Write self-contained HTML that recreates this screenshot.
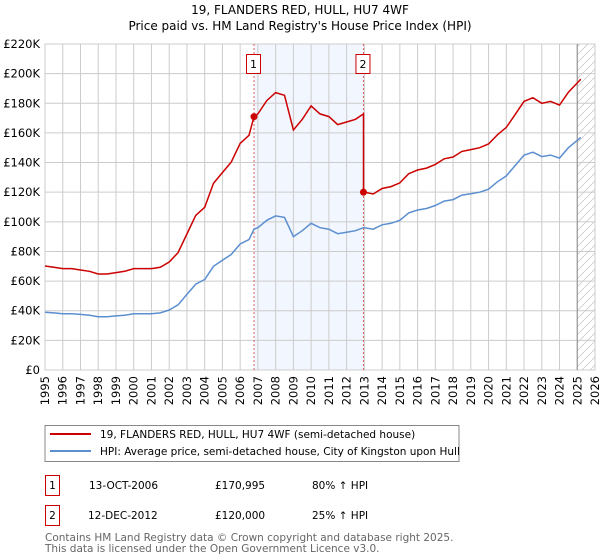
<!DOCTYPE html>
<html><head><meta charset="utf-8">
<style>
html,body{margin:0;padding:0;background:#fff;}
svg{display:block;font-family:"DejaVu Sans","Liberation Sans",sans-serif;}
</style></head>
<body>
<svg id="chart" width="600" height="560" viewBox="0 0 600 560" xmlns="http://www.w3.org/2000/svg">
<text x="300" y="14" text-anchor="middle" font-size="12">19, FLANDERS RED, HULL, HU7 4WF</text>
<text x="300" y="30" text-anchor="middle" font-size="12">Price paid vs. HM Land Registry's House Price Index (HPI)</text>
<g id="plot"></g>
<g>
<rect x="45" y="425.5" width="414" height="36" fill="#fff" stroke="#888"/>
<line x1="50" y1="434" x2="91" y2="434" stroke="#cc0000" stroke-width="2"/>
<text x="100" y="438" font-size="10.5">19, FLANDERS RED, HULL, HU7 4WF (semi-detached house)</text>
<line x1="50" y1="451" x2="91" y2="451" stroke="#5b8fd0" stroke-width="2"/>
<text x="100" y="455" font-size="10.5">HPI: Average price, semi-detached house, City of Kingston upon Hull</text>
</g>
<g font-size="10.5">
<rect x="45.5" y="475.5" width="14" height="20" fill="#fff" stroke="#cc0000"/>
<text x="52.5" y="489" text-anchor="middle">1</text>
<text x="89" y="489">13-OCT-2006</text>
<text x="215" y="489">£170,995</text>
<text x="312" y="489">80% ↑ HPI</text>
<rect x="45.5" y="505.5" width="14" height="20" fill="#fff" stroke="#cc0000"/>
<text x="52.5" y="519" text-anchor="middle">2</text>
<text x="88" y="519">12-DEC-2012</text>
<text x="215" y="519">£120,000</text>
<text x="312" y="519">25% ↑ HPI</text>
</g>
<text x="45" y="541" font-size="10.5" fill="#666">Contains HM Land Registry data © Crown copyright and database right 2025.</text>
<text x="45" y="552" font-size="10.5" fill="#666">This data is licensed under the Open Government Licence v3.0.</text>
</svg>
<script>
const hpiYears = [1995,1995.5,1996,1996.5,1997,1997.5,1998,1998.5,1999,1999.5,2000,2000.5,2001,2001.5,2002,2002.5,2003,2003.5,2004,2004.5,2005,2005.5,2006,2006.5,2006.78,2007,2007.5,2008,2008.5,2009,2009.5,2010,2010.5,2011,2011.5,2012,2012.5,2012.95,2013,2013.5,2014,2014.5,2015,2015.5,2016,2016.5,2017,2017.5,2018,2018.5,2019,2019.5,2020,2020.5,2021,2021.5,2022,2022.5,2023,2023.5,2024,2024.5,2025,2025.2];
const hpiValues = [39,38.5,38,38,37.5,37,36,36,36.5,37,38,38,38,38.5,40.5,44,51,58,61,70,74,78,85,88,95,96,101,104,103,90,94,99,96,95,92,93,94,96,96,95,98,99,101,106,108,109,111,114,115,118,119,120,122,127,131,138,145,147,144,145,143,150,155,157];
const saleYears = [2006.78, 2012.95];
const salePrices = [170.995, 120.0];
const saleLabels = ["1","2"];
const yTicks = [0,20,40,60,80,100,120,140,160,180,200,220];
const yTickLabels = ["£0","£20K","£40K","£60K","£80K","£100K","£120K","£140K","£160K","£180K","£200K","£220K"];
const xTicks = [1995,1996,1997,1998,1999,2000,2001,2002,2003,2004,2005,2006,2007,2008,2009,2010,2011,2012,2013,2014,2015,2016,2017,2018,2019,2020,2021,2022,2023,2024,2025,2026];
const dataEnd = 2025.0;

const L=45,R=595,T=44,B=370,X0=1995,X1=2026,YMAX=220;
const sx=v=>L+(v-X0)/(X1-X0)*(R-L);
const sy=v=>B-v/YMAX*(B-T);
const NS="http://www.w3.org/2000/svg";
const plot=document.getElementById('plot');
function mk(tag,attrs,parent){const e=document.createElementNS(NS,tag);for(const k in attrs)e.setAttribute(k,attrs[k]);(parent||plot).appendChild(e);return e;}
function hpiAt(y){for(let i=0;i<hpiYears.length-1;i++){if(y>=hpiYears[i]&&y<=hpiYears[i+1]){const t=(y-hpiYears[i])/(hpiYears[i+1]-hpiYears[i]);return hpiValues[i]+t*(hpiValues[i+1]-hpiValues[i]);}}return hpiValues[hpiValues.length-1];}

const sh=mk('rect',{x:sx(saleYears[0]),y:T,width:sx(saleYears[1])-sx(saleYears[0]),height:B-T,fill:'#eef3fd',opacity:0.75});


const defs=mk('defs',{});
const pat=mk('pattern',{id:'hatch',width:8,height:8,patternUnits:'userSpaceOnUse'},defs);
mk('path',{d:'M0,8 L8,0',stroke:'#ccc','stroke-width':0.8},pat);
const ht=mk('rect',{x:sx(dataEnd),y:T,width:R-sx(dataEnd),height:B-T,fill:'url(#hatch)'});



yTicks.forEach((v,i)=>{
  const g=mk('line',{x1:L,x2:R,y1:sy(v),y2:sy(v),stroke:'#ccc','stroke-width':1});
  
  
  const t=mk('text',{x:L-5,y:sy(v)+4,'text-anchor':'end','font-size':11.5});
  t.textContent=yTickLabels[i];
  
  
});
xTicks.forEach(v=>{
  const g=mk('line',{x1:sx(v),x2:sx(v),y1:T,y2:B,stroke:'#ccc','stroke-width':1});
  
  
  const x=sx(v)+4, y=B+6;
  const t=mk('text',{x:x,y:y,'text-anchor':'end','font-size':11.5,transform:'rotate(-90 '+x+' '+y+')'});
  t.textContent=v;
  
  
});
const fr=mk('rect',{x:L,y:T,width:R-L,height:B-T,fill:'none',stroke:'#ccc'});


const el=mk('line',{x1:sx(dataEnd),x2:sx(dataEnd),y1:T,y2:B,stroke:'#999','stroke-width':1.2});



saleYears.forEach((y,i)=>{
  const l=mk('line',{x1:sx(y),x2:sx(y),y1:T,y2:B,stroke:'#e06060','stroke-width':1,'stroke-dasharray':'2,2'});
  
  
  const b=mk('rect',{x:sx(y)-7.5,y:54.5,width:14,height:19,fill:'#fff',stroke:'#cc0000'});
  
  
  const t=mk('text',{x:sx(y)-0.5,y:68,'text-anchor':'middle','font-size':11});
  t.textContent=saleLabels[i];
  
  
});

const hp=hpiYears.map((y,i)=>sx(y).toFixed(1)+','+sy(hpiValues[i]).toFixed(1)).join(' ');
const hl=mk('polyline',{points:hp,fill:'none',stroke:'#5b8fd0','stroke-width':1.5});



const r1=salePrices[0]/hpiAt(saleYears[0]), r2=salePrices[1]/hpiAt(saleYears[1]);
const pts=[];
hpiYears.forEach((y,i)=>{
  if(y<=saleYears[1]) pts.push([y,hpiValues[i]*r1]);
  if(y>=saleYears[1]) pts.push([y,hpiValues[i]*r2]);
});
const pl=mk('polyline',{points:pts.map(p=>sx(p[0]).toFixed(1)+','+sy(p[1]).toFixed(1)).join(' '),fill:'none',stroke:'#cc0000','stroke-width':1.5});


saleYears.forEach((y,i)=>{
  const c=mk('circle',{cx:sx(y),cy:sy(salePrices[i]),r:3.5,fill:'#cc0000'});
  
  
});
</script>
</body></html>
